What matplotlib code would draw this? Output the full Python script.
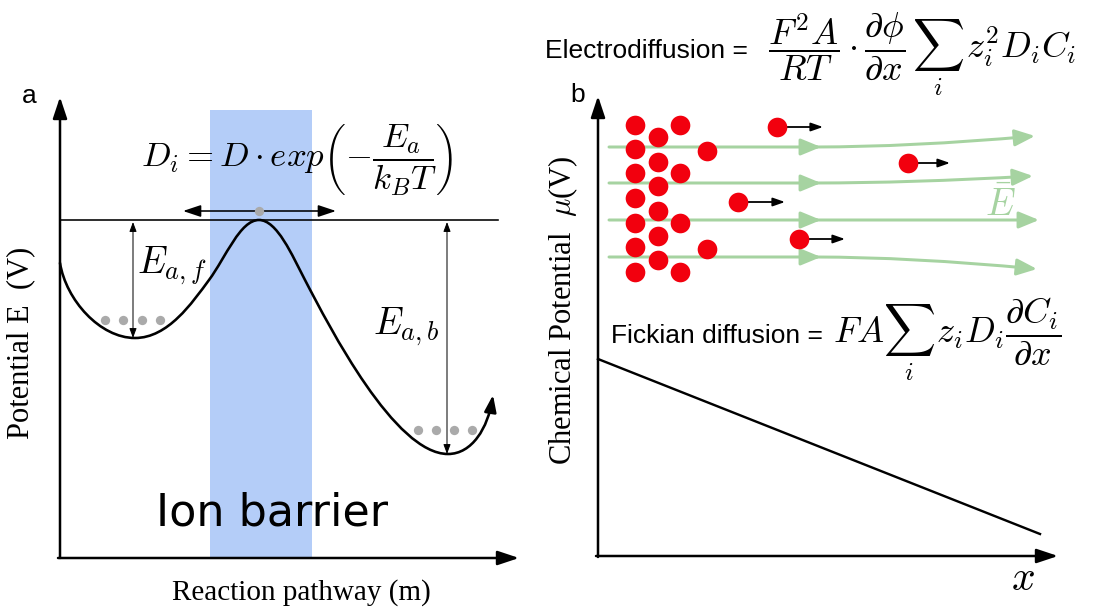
import numpy as np
import matplotlib.pyplot as plt
from matplotlib.patches import FancyArrowPatch, Rectangle
from matplotlib.path import Path

plt.rcParams['mathtext.fontset'] = 'cm'

W, H = 1095, 615
PX = 0.72  # points per pixel at dpi 100

# ---- panel a: energy profile (bezier anchors + handles, pixel units)
curve_pts = [(60, 263), (66, 300), (100, 338), (135, 338),
             (168, 338), (192, 303), (209, 280),
             (226, 257), (240, 220), (259, 220),
             (277, 220), (292, 255), (305, 280),
             (330, 328), (395, 454), (448, 454),
             (472, 454), (488, 428), (493, 395)]
left_dots_x = [105, 123, 142, 160]
left_dots_y = [320, 320, 320, 320]
right_dots_x = [418, 436, 454, 472]
right_dots_y = [430, 430, 430, 430]
top_dot = (259, 211)
barrier_x = [210, 312]
barrier_y = [110, 557]
saddle_y = 220
ea_f_x, ea_f_y = 133, [222, 338]
ea_b_x, ea_b_y = 447, [222, 454]
hop_x, hop_y = [183, 336], 211

# ---- panel b: ions and field
cluster_x = [635] * 7 + [658] * 6 + [680] * 4 + [707] * 2
cluster_y = [125, 149, 173, 198, 223, 247, 272,
             137, 162, 186, 211, 236, 260,
             125, 173, 223, 272,
             151, 249]
drift_x = [777, 908, 738, 799]
drift_y = [127, 163, 202, 239]
drift_tip = [823, 950, 785, 845]
field_y0 = [147, 183, 220, 257]
field_end_x = [1035, 1033, 1039, 1037]
field_end_y = [136, 176, 220, 269]
mu_x = [598, 1040]
mu_y = [359, 534]

RED = '#f2000e'
GREEN = '#a6d3a1'
BLUE = '#b4cdf8'
GREY = '#aaaaaa'


def arrow(ax, p0=None, p1=None, path=None, lw=1.5, hl=12, hw=4,
          style='-|>', color='k', z=3):
    spec = f'{style},head_length={hl * PX},head_width={hw * PX}'
    if path is not None:
        a = FancyArrowPatch(path=path, arrowstyle=spec, mutation_scale=1,
                            lw=lw * PX, color=color, zorder=z)
    else:
        a = FancyArrowPatch(p0, p1, arrowstyle=spec, mutation_scale=1,
                            lw=lw * PX, color=color, shrinkA=0, shrinkB=0,
                            zorder=z)
    ax.add_patch(a)


fig = plt.figure(figsize=(W / 100, H / 100), dpi=100)
ax = fig.add_axes([0, 0, 1, 1])
ax.set_xlim(0, W)
ax.set_ylim(H, 0)
ax.axis('off')

serif = 'Liberation Serif'
sans = 'Liberation Sans'

# ================= panel a =================
ax.add_patch(Rectangle((barrier_x[0], barrier_y[0]), barrier_x[1] - barrier_x[0],
                       barrier_y[1] - barrier_y[0], color=BLUE, lw=0, zorder=0))

# axes
arrow(ax, (60, 558), (60, 97), lw=2.5, hl=18, hw=6)
arrow(ax, (58, 558), (519, 558), lw=2.5, hl=18, hw=6)

# saddle level
ax.plot([60, 498], [saddle_y, saddle_y], color='k', lw=1.6 * PX, zorder=2)

# energy curve
codes = [Path.MOVETO] + [Path.CURVE4] * (len(curve_pts) - 1)
arrow(ax, path=Path(curve_pts, codes), lw=2.6, hl=14, hw=5)

ax.scatter(left_dots_x, left_dots_y, s=45, color=GREY, lw=0, zorder=4)
ax.scatter(right_dots_x, right_dots_y, s=45, color=GREY, lw=0, zorder=4)
ax.scatter([top_dot[0]], [top_dot[1]], s=45, color=GREY, lw=0, zorder=4)

arrow(ax, (hop_x[0], hop_y), (hop_x[1], hop_y), lw=1.6, hl=15, hw=5, style='<|-|>')
arrow(ax, (ea_f_x, ea_f_y[0]), (ea_f_x, ea_f_y[1]), lw=1.0, hl=8, hw=3, style='<|-|>')
arrow(ax, (ea_b_x, ea_b_y[0]), (ea_b_x, ea_b_y[1]), lw=1.0, hl=8, hw=3, style='<|-|>')

ax.text(137, 273, r'$E_{a,f}$', fontsize=27, va='baseline', ha='left')
ax.text(373, 334, r'$E_{a,b}$', fontsize=27, va='baseline', ha='left')
ax.text(297, 167, r'$D_i = D\cdot exp\left(-\dfrac{E_a}{k_BT}\right)$',
        fontsize=25, va='baseline', ha='center')

ax.text(272, 525, 'Ion barrier', fontsize=32, family='DejaVu Sans',
        va='baseline', ha='center')
ax.text(301, 593, 'Reaction pathway (m)', fontsize=21, family=serif,
        va='center', ha='center')
ax.text(21, 343, 'Potential E  (V)', fontsize=22, family=serif,
        rotation=90, va='center', ha='center')
ax.text(29, 96, 'a', fontsize=19, family=sans, va='center', ha='center')

# ================= panel b =================
arrow(ax, (598, 557), (598, 96), lw=2.5, hl=18, hw=6)
arrow(ax, (596, 556), (1058, 556), lw=2.5, hl=18, hw=6)
ax.plot(mu_x, mu_y, color='k', lw=2.4 * PX, zorder=2)

# field lines: straight run with a mid arrowhead, then a bent tail
for y0, xe, ye in zip(field_y0, field_end_x, field_end_y):
    arrow(ax, (609, y0), (821, y0), lw=3, hl=17, hw=7, color=GREEN, z=1)
    tail = Path([(815, y0), (910, y0), (xe, ye)],
                [Path.MOVETO, Path.CURVE3, Path.CURVE3])
    arrow(ax, path=tail, lw=3, hl=17, hw=7, color=GREEN, z=1)

ax.scatter(cluster_x, cluster_y, s=200, color=RED, lw=0, zorder=5)
ax.scatter(drift_x, drift_y, s=200, color=RED, lw=0, zorder=5)
for x, y, xt in zip(drift_x, drift_y, drift_tip):
    arrow(ax, (x, y), (xt, y), lw=1.8, hl=10, hw=3.5, z=4)

ax.text(985, 215, r'$\bar{E}$', fontsize=27, color=GREEN,
        va='baseline', ha='left')
ax.text(1011, 590, r'$x$', fontsize=30, va='baseline', ha='left')

ax.text(748, 58, 'Electrodiffusion =', fontsize=19, family=sans,
        va='baseline', ha='right')
ax.text(768, 58,
        r'$\dfrac{F^2A}{RT}\cdot\dfrac{\partial\phi}{\partial x}\,\sum_i\,z_i^2D_iC_i$',
        fontsize=26, va='baseline', ha='left')

ax.text(823, 343, 'Fickian diffusion =', fontsize=19, family=sans,
        va='baseline', ha='right')
ax.text(833, 343, r'$FA\sum_i\,z_iD_i\dfrac{\partial C_i}{\partial x}$',
        fontsize=26, va='baseline', ha='left')

ax.text(563, 310, r'Chemical Potential  $\mu$(V)', fontsize=22, family=serif,
        rotation=90, va='center', ha='center')
ax.text(578, 95, 'b', fontsize=19, family=sans, va='center', ha='center')

fig.savefig('out.png', dpi=100)
